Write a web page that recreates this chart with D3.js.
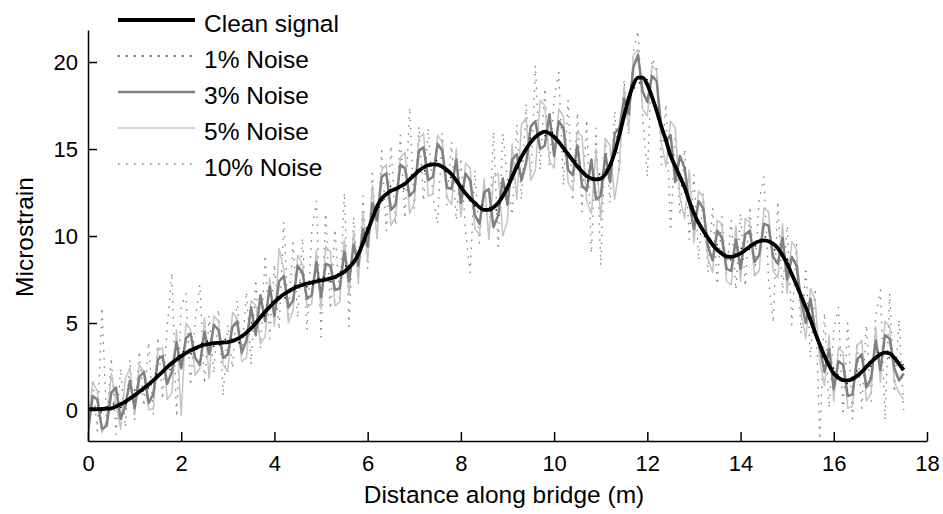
<!DOCTYPE html>
<html>
<head>
<meta charset="utf-8">
<script src="https://cdn.jsdelivr.net/npm/d3@7"></script>
<style>
  body { margin: 0; background: #fff; }
  text { font-family: "Liberation Sans", Arial, sans-serif; fill: #000; }
</style>
</head>
<body>
<div id="chart"></div>
<script>
// samples every 0.1 m (clean + 3/5/10 %), 1 % noise every 0.25 m
const clean = [
  0.05,0.05,0.05,0.06,0.08,0.1,0.2,0.33,0.48,0.66,
  0.85,1.05,1.25,1.47,1.7,1.95,2.2,2.47,2.7,2.9,
  3.1,3.27,3.42,3.55,3.66,3.75,3.8,3.84,3.86,3.88,
  3.9,3.97,4.08,4.24,4.45,4.7,5.0,5.33,5.65,5.93,
  6.2,6.44,6.65,6.82,6.97,7.1,7.19,7.27,7.33,7.39,
  7.45,7.5,7.57,7.65,7.78,7.95,8.2,8.5,8.95,9.6,
  10.3,11.0,11.7,12.15,12.4,12.6,12.7,12.85,13.0,13.25,
  13.5,13.75,13.95,14.07,14.12,14.1,13.98,13.8,13.55,13.2,
  12.8,12.45,12.15,11.9,11.65,11.5,11.5,11.65,11.9,12.3,
  12.8,13.4,14.0,14.55,15.0,15.4,15.7,15.9,16.0,15.9,
  15.7,15.4,15.05,14.7,14.35,14.0,13.7,13.45,13.3,13.25,
  13.3,13.55,14.05,14.8,15.8,16.9,17.9,18.7,19.1,19.1,
  18.7,18.0,17.2,16.3,15.5,14.6,14.0,13.4,12.8,12.0,
  11.3,10.75,10.3,9.9,9.5,9.2,8.98,8.83,8.8,8.88,
  9.0,9.2,9.4,9.58,9.7,9.75,9.7,9.55,9.3,8.9,
  8.4,7.8,7.2,6.55,5.9,5.2,4.45,3.75,3.1,2.55,
  2.1,1.85,1.72,1.7,1.78,1.95,2.2,2.48,2.75,3.0,
  3.2,3.3,3.25,3.0,2.65,2.3
];

const noise1 = [
  0.3,-0.2,0.4,0.1,1.15,1.05,2.25,2.3,3.4,3.2,
  4.05,3.55,4.2,3.85,5.0,5.2,6.5,6.45,7.4,7.0,
  7.75,7.3,8.25,8.4,10.6,11.7,12.9,12.6,13.8,13.75,
  14.4,13.4,13.1,11.7,11.8,11.45,13.1,14.0,15.7,15.7,
  16.0,14.6,14.3,13.05,13.6,14.1,17.2,18.7,19.0,16.5,
  14.9,12.8,11.6,9.8,9.5,8.5,9.3,9.2,10.05,9.15,
  8.7,6.6,5.5,3.1,2.4,1.4,2.25,2.3,3.5,2.85,
  2.6
];

const noise3 = [
  -1.3,0.8,0.6,-1.1,-0.9,1.0,1.3,-0.5,0.2,1.7,
  0.1,1.9,2.2,0.4,0.9,2.9,3.1,1.5,2.2,3.9,
  2.4,4.1,4.4,3.0,2.6,4.5,3.2,4.9,4.6,3.0,
  3.2,4.8,5.1,3.3,4.0,5.9,4.3,6.6,5.1,7.1,
  5.4,7.4,7.7,5.9,6.3,8.3,7.9,6.4,6.6,8.5,
  6.5,8.4,8.3,6.9,7.0,9.1,7.4,9.5,8.3,10.4,
  9.4,11.9,10.9,13.4,13.6,11.5,11.8,14.1,13.9,12.3,
  12.6,14.9,15.1,13.2,13.4,15.3,14.9,12.8,12.7,14.4,
  11.9,13.6,13.2,11.2,10.7,12.5,12.7,10.5,11.2,13.3,
  11.8,14.4,14.7,13.2,14.2,16.3,16.6,15.0,15.2,17.0,
  14.6,16.6,16.2,13.8,13.5,15.2,12.9,12.6,14.4,12.1,
  12.3,14.7,13.1,15.9,16.2,17.9,17.0,19.7,20.4,18.3,
  17.7,19.2,18.9,16.2,15.5,15.8,13.1,14.6,13.9,11.9,
  10.4,12.0,11.6,9.4,8.6,10.3,9.9,8.1,8.0,9.8,
  8.1,10.1,10.3,8.5,8.9,10.7,10.6,8.8,8.4,9.9,
  7.5,8.8,8.3,6.3,5.0,6.4,4.5,3.6,2.2,3.5,
  1.2,2.8,2.6,0.8,0.9,2.9,3.2,1.3,1.8,4.0,
  2.3,4.3,4.1,2.4,1.7,2.1
];

const noise5 = [
  -0.9,1.6,1.1,-1.3,-0.6,2.1,0.4,-1.1,1.8,2.4,
  -0.3,2.6,2.2,0.0,0.1,3.4,3.6,0.6,1.0,4.6,
  -0.3,5.0,4.6,2.0,2.4,5.3,1.8,5.4,5.1,2.6,
  2.2,5.6,5.3,2.8,3.0,6.3,6.0,3.8,4.2,7.6,
  4.8,9.3,8.1,5.0,5.7,8.9,8.4,5.9,6.1,9.2,
  5.8,9.4,9.1,6.0,6.2,9.8,6.6,10.3,7.4,11.4,
  8.5,12.9,9.9,13.8,14.1,10.6,11.1,14.5,14.8,11.3,
  11.9,15.6,15.9,12.3,12.4,15.8,15.4,12.2,11.8,15.0,
  11.1,14.2,13.9,10.4,10.1,13.3,9.8,13.4,13.6,10.0,
  10.9,15.3,12.1,16.4,16.8,13.2,13.8,17.8,17.5,14.3,
  13.9,17.3,16.9,13.1,12.6,16.0,15.7,12.0,11.3,15.0,
  10.9,15.6,15.2,12.1,14.0,18.6,16.1,20.4,20.7,17.3,
  16.9,19.8,19.5,15.4,14.0,16.6,16.2,12.2,11.0,13.8,
  9.6,12.6,12.2,8.7,7.9,10.9,10.7,7.4,7.2,10.6,
  7.4,11.0,10.8,7.7,8.0,11.6,11.4,8.0,7.6,10.7,
  6.7,9.7,9.2,5.6,4.1,7.0,6.3,2.8,1.4,4.3,
  0.5,3.6,3.3,0.1,0.2,3.7,4.0,0.5,1.0,4.8,
  1.6,5.1,4.8,1.6,1.0,0.6
];

const noise10 = [
  -1.7,1.8,-1.2,5.9,-0.8,3.0,-1.4,2.4,-1.0,2.9,
  -0.6,3.4,0.2,3.9,-0.3,4.2,0.6,4.8,7.9,-0.4,
  5.9,6.7,1.4,5.2,7.2,1.5,5.4,2.1,5.8,0.8,
  4.9,2.4,6.3,3.0,6.8,2.6,7.5,3.6,8.9,4.1,
  8.4,4.6,10.8,5.2,9.6,5.3,9.9,4.6,10.2,12.0,
  4.2,11.3,5.8,10.4,6.2,12.5,4.8,11.1,7.3,12.3,
  8.1,13.6,9.7,14.9,10.3,15.2,10.6,15.8,11.0,17.4,
  11.6,16.3,12.0,16.2,12.3,10.7,15.9,11.8,15.4,10.9,
  14.5,10.2,7.9,13.8,9.6,13.2,9.8,16.0,9.4,15.9,
  13.2,11.2,16.4,12.1,17.6,13.2,19.8,13.8,18.5,14.0,
  17.9,19.4,12.9,17.8,12.0,17.1,11.4,16.7,9.0,16.2,
  8.3,15.6,11.9,17.2,13.6,19.0,15.8,20.6,21.8,16.9,
  13.4,20.2,19.7,14.1,17.6,10.3,16.0,11.2,15.0,9.8,
  13.5,8.6,12.4,7.9,11.6,7.2,11.1,7.8,10.9,6.9,
  11.3,7.1,11.7,7.6,12.1,13.4,7.5,5.0,12.0,6.7,
  10.6,4.9,9.5,4.4,8.2,3.0,7.0,-1.7,5.6,0.1,
  4.6,5.9,-0.3,5.0,-0.5,3.9,0.1,4.9,0.5,5.4,
  6.9,-0.6,6.7,1.0,5.2,0.0
];

const xTicks = [0, 2, 4, 6, 8, 10, 12, 14, 16, 18];
const yTicks = [0, 5, 10, 15, 20];
const legendNames = ["Clean signal", "1% Noise", "3% Noise", "5% Noise", "10% Noise"];

const width = 943, height = 514;
const margin = {left: 88, right: 16, top: 30, bottom: 73};

const svg = d3.select("#chart").append("svg")
  .attr("width", width)
  .attr("height", height)
  .style("display", "block");

const x = d3.scaleLinear().domain([0, 18]).range([margin.left, width - margin.right]);
const y = d3.scaleLinear().domain([-1.78, 21.84]).range([height - margin.bottom, margin.top]);

// sample positions along the bridge
const dist10 = d3.range(clean.length).map(i => i / 10);
const dist25 = d3.range(noise1.length).map(i => i / 4);

svg.append("clipPath").attr("id", "clip")
  .append("rect")
  .attr("x", x(0)).attr("y", y(21.84))
  .attr("width", x(18) - x(0)).attr("height", y(-1.78) - y(21.84));

const series = [
  {name: "10% Noise", xs: dist10, ys: noise10, color: "#7a7a7a", w: 1.3, dash: "1.5,6.5"},
  {name: "5% Noise", xs: dist10, ys: noise5, color: "#c4c4c4", w: 1.5, dash: null},
  {name: "3% Noise", xs: dist10, ys: noise3, color: "#808080", w: 2.5, dash: null},
  {name: "1% Noise", xs: dist25, ys: noise1, color: "#000", w: 1.3, dash: "1.5,6.5"},
  {name: "Clean signal", xs: dist10, ys: clean, color: "#000", w: 3.8, dash: null}
];

const line = d3.line()
  .x(d => x(d[0]))
  .y(d => y(d[1]));

const plot = svg.append("g").attr("clip-path", "url(#clip)");
series.forEach(s => {
  plot.append("path")
    .datum(s.xs.map((v, i) => [v, s.ys[i]]))
    .attr("fill", "none")
    .attr("stroke", s.color)
    .attr("stroke-width", s.w)
    .attr("stroke-dasharray", s.dash)
    .attr("stroke-linejoin", "round")
    .attr("d", s.name == "Clean signal" ? line.curve(d3.curveMonotoneX) : line.curve(d3.curveLinear));
});

// axes, ticks pointing inward
const xAxis = svg.append("g")
  .attr("transform", `translate(0,${y(-1.78)})`)
  .call(d3.axisBottom(x).tickValues(xTicks).tickSizeInner(-9).tickSizeOuter(0).tickPadding(14));
const yAxis = svg.append("g")
  .attr("transform", `translate(${x(0)},0)`)
  .call(d3.axisLeft(y).tickValues(yTicks).tickSizeInner(-9).tickSizeOuter(0).tickPadding(10));

[xAxis, yAxis].forEach(a => {
  a.select(".domain").attr("stroke", "#000").attr("stroke-width", 1.5);
  a.selectAll(".tick line").attr("stroke", "#000").attr("stroke-width", 1.5);
  a.selectAll(".tick text").style("font-size", "22px").attr("fill", "#000");
});

svg.append("text")
  .attr("x", 504).attr("y", 503)
  .attr("text-anchor", "middle")
  .style("font-size", "24.5px")
  .text("Distance along bridge (m)");

svg.append("text")
  .attr("transform", "translate(33,237) rotate(-90)")
  .attr("text-anchor", "middle")
  .style("font-size", "24.5px")
  .text("Microstrain");

// legend, no box
const legend = svg.append("g");
legendNames.forEach((name, i) => {
  const s = series.find(d => d.name == name);
  const ly = 20 + i * 36;
  legend.append("line")
    .attr("x1", 118).attr("x2", 195)
    .attr("y1", ly).attr("y2", ly)
    .attr("stroke", s.color)
    .attr("stroke-width", s.w)
    .attr("stroke-dasharray", s.dash);
  legend.append("text")
    .attr("x", 204).attr("y", ly + 12)
    .style("font-size", "24.5px")
    .text(name);
});
</script>
</body>
</html>
